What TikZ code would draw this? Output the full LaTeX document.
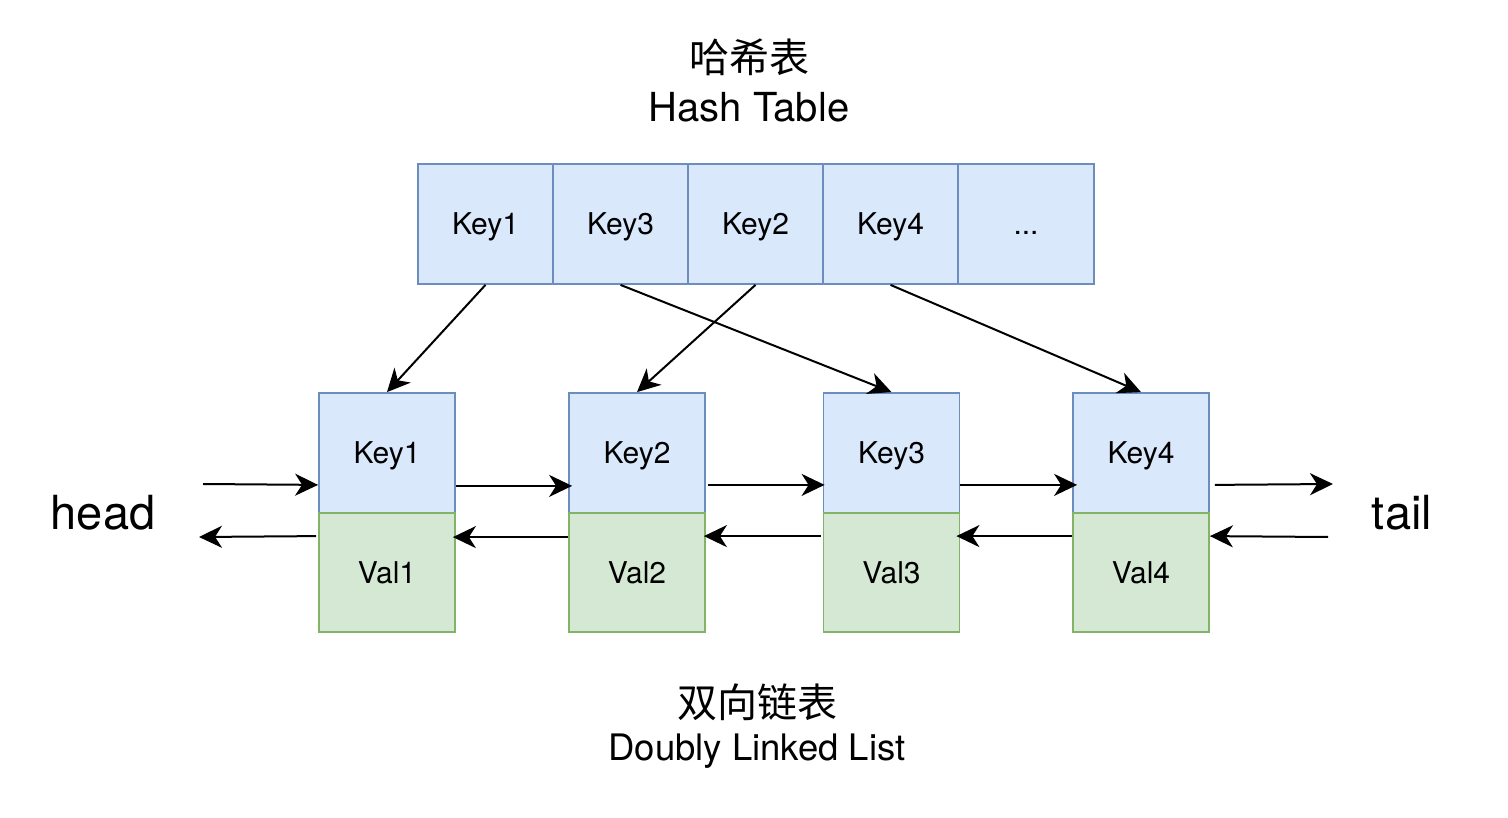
\documentclass[tikz,border=0pt]{standalone}
\usepackage{fontspec}
\setmainfont{TeX Gyre Heros}
\newfontfamily\cjk{Noto Sans CJK SC}
\usetikzlibrary{arrows.meta}
\definecolor{bfill}{HTML}{DAE8FC}
\definecolor{bdraw}{HTML}{6C8EBF}
\definecolor{gfill}{HTML}{D5E8D4}
\definecolor{gdraw}{HTML}{82B366}
\tikzset{
  cell/.style={rectangle, inner sep=0pt, minimum width=135pt, minimum height=120pt, line width=1.8pt, text height=21pt, text depth=0pt, font=\fontsize{30}{34}\selectfont},
  keybox/.style={cell, fill=bfill, draw=bdraw},
  valbox/.style={cell, fill=gfill, draw=gdraw, minimum height=119pt},
  arr/.style={line width=2pt, -{Stealth[length=23pt, width=22pt, inset=7pt]}},
  lbl/.style={inner sep=0pt}
}
\begin{document}
\begin{tikzpicture}[x=1pt, y=-1pt]
\useasboundingbox[fill=white] (0,0) rectangle (1508,818);
% titles
\node[lbl, font=\cjk\fontsize{40}{46}\selectfont] (t1) at (749,57) {哈希表};
\node[lbl, font=\fontsize{40}{46}\selectfont] (t2) at (749,107) {Hash Table};
\node[lbl, font=\cjk\fontsize{40}{46}\selectfont] (b1) at (757,702) {双向链表};
\node[lbl, font=\fontsize{36.5}{42}\selectfont] (b2) at (757,751) {Doubly Linked List};
\node[lbl, font=\fontsize{47}{54}\selectfont] (head) at (103,513) {head};
\node[lbl, font=\fontsize{47}{54}\selectfont] (tail) at (1402,513) {tail};
% hash table
\node[keybox] (h1) at (485.5,224) {Key1};
\node[keybox] (h2) at (620.5,224) {Key3};
\node[keybox] (h3) at (755.5,224) {Key2};
\node[keybox] (h4) at (890.5,224) {Key4};
\node[keybox, minimum width=136pt] (h5) at (1026,224) {...};
% list nodes
\node[keybox, minimum width=136pt] (k1) at (387,453) {Key1};
\node[valbox, minimum width=136pt] (v1) at (387,572.5) {Val1};
\node[keybox, minimum width=136pt] (k2) at (637,453) {Key2};
\node[valbox, minimum width=136pt] (v2) at (637,572.5) {Val2};
\node[keybox, minimum width=136pt] (k3) at (891.5,453) {Key3};
\node[valbox, minimum width=136pt] (v3) at (891.5,572.5) {Val3};
\node[keybox, minimum width=136pt] (k4) at (1141,453) {Key4};
\node[valbox, minimum width=136pt] (v4) at (1141,572.5) {Val4};
% hash arrows
\draw[arr] (h1.south) -- (k1.north);
\draw[arr] (h2.south) -- (k3.north);
\draw[arr] (h3.south) -- (k2.north);
\draw[arr] (h4.south) -- (k4.north);
% free ends
\coordinate (hin) at (203,484);
\coordinate (hout) at (199,537);
\coordinate (tin) at (1328,537);
\coordinate (tout) at (1333,484);
% forward arrows
\draw[arr] (hin) -- ([yshift=29pt]k1.south west);
\draw[arr] ([yshift=28pt]k1.south east) -- ([yshift=28pt,xshift=4pt]k2.south west);
\draw[arr] ([yshift=29pt,xshift=2pt]k2.south east) -- ([yshift=29pt,xshift=2pt]k3.south west);
\draw[arr] ([yshift=29pt]k3.south east) -- ([yshift=29pt,xshift=5pt]k4.south west);
\draw[arr] ([yshift=29pt,xshift=5pt]k4.south east) -- (tout);
% backward arrows
\draw[arr] (tin) -- ([yshift=-24pt]v4.north east);
\draw[arr] ([yshift=-24pt]v4.north west) -- ([yshift=-24pt,xshift=-4pt]v3.north east);
\draw[arr] ([yshift=-24pt,xshift=-2pt]v3.north west) -- ([yshift=-24pt,xshift=-2pt]v2.north east);
\draw[arr] ([yshift=-25pt]v2.north west) -- ([yshift=-25pt,xshift=-3pt]v1.north east);
\draw[arr] ([yshift=-24pt,xshift=-2pt]v1.north west) -- (hout);
\end{tikzpicture}
\end{document}
